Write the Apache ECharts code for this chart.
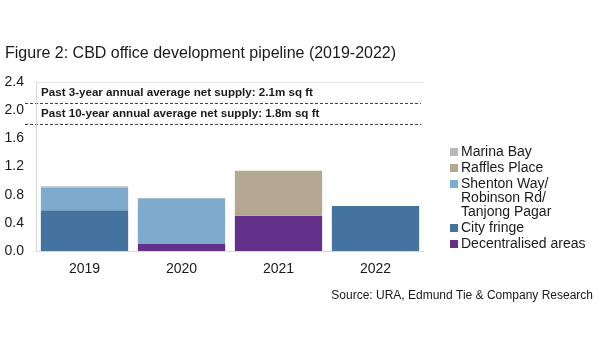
<!DOCTYPE html>
<html>
<head>
<meta charset="utf-8">
<script src="https://cdn.jsdelivr.net/npm/echarts@6/dist/echarts.min.js"></script>
<style>
html,body{margin:0;padding:0;background:#fff;}
#main{width:600px;height:360px;}
</style>
</head>
<body>
<div id="main"></div>
<script>
var categories = ['2019', '2020', '2021', '2022'];
var decentralised = [0, 0.10, 0.50, 0];
var cityFringe = [0.58, 0, 0, 0.64];
var shentonWay = [0.32, 0.65, 0, 0];
var rafflesPlace = [0, 0, 0.64, 0];
var marinaBay = [0.02, 0, 0, 0];
var yTicks = [0, 0.4, 0.8, 1.2, 1.6, 2.0, 2.4];
var refValues = [2.1, 1.8];
var refLabels = ['Past 3-year annual average net supply: 2.1m sq ft', 'Past 10-year annual average net supply: 1.8m sq ft'];
var seriesNames = ['Decentralised areas', 'City fringe', 'Shenton Way/\nRobinson Rd/\nTanjong Pagar', 'Raffles Place', 'Marina Bay'];
var seriesColors = ['#63308a', '#44739f', '#7eaacd', '#b5a890', '#b9b9b9'];
var seriesData = [decentralised, cityFringe, shentonWay, rafflesPlace, marinaBay];

var FONT = '"Liberation Sans", Arial, Helvetica, sans-serif';
var chart = echarts.init(document.getElementById('main'), null, {renderer: 'canvas'});

var series = seriesData.map(function (d, i) {
  return {
    name: seriesNames[i],
    type: 'bar',
    stack: 'total',
    data: d,
    barCategoryGap: '10%',
    itemStyle: {color: seriesColors[i]},
    emphasis: {disabled: true},
    animation: false
  };
});

var gridLeft = 36, gridRight = 424, gridTop = 82, gridBottom = 251;

var option = {
  animation: false,
  backgroundColor: '#ffffff',
  textStyle: {fontFamily: FONT},
  grid: {left: gridLeft, right: 600 - gridRight, top: gridTop, bottom: 360 - gridBottom, containLabel: false},
  xAxis: [{
    type: 'category',
    data: categories,
    axisLine: {show: true, lineStyle: {color: '#d9d9d9', width: 1}},
    axisTick: {show: false},
    axisLabel: {color: '#1a1a1a', fontSize: 14, fontFamily: FONT, margin: 11}
  }, {
    type: 'category',
    data: categories,
    position: 'top',
    axisLine: {show: true, lineStyle: {color: '#e3e3e3', width: 1}},
    axisTick: {show: false},
    axisLabel: {show: false}
  }],
  yAxis: {
    type: 'value',
    min: yTicks[0],
    max: yTicks[yTicks.length - 1],
    interval: 0.4,
    axisLine: {show: true, lineStyle: {color: '#d9d9d9', width: 1}},
    axisTick: {show: false},
    splitLine: {show: false},
    axisLabel: {
      color: '#1a1a1a', fontSize: 14, fontFamily: FONT, margin: 12,
      formatter: function (v) { return v.toFixed(1); }
    }
  },
  series: series,
  graphic: []
};
chart.setOption(option);

var graphics = [];
graphics.push({
  type: 'text', left: 5, top: 46,
  style: {text: 'Figure 2: CBD office development pipeline (2019-2022)', font: '16px ' + FONT, fill: '#1a1a1a'}
});
graphics.push({
  type: 'text', right: 7, top: 290,
  style: {text: 'Source: URA, Edmund Tie & Company Research', font: '12px ' + FONT, fill: '#1a1a1a'}
});

refValues.forEach(function (v, i) {
  var y = Math.round(chart.convertToPixel({yAxisIndex: 0}, v)) + 0.5;
  graphics.push({
    type: 'line',
    shape: {x1: 25, y1: y, x2: gridRight - 3, y2: y},
    style: {stroke: '#444444', lineWidth: 1, lineDash: [3, 2]},
    silent: true
  });
  graphics.push({
    type: 'text', x: 41, y: y - 11,
    style: {text: refLabels[i], font: 'bold 11.6px ' + FONT, fill: '#1a1a1a', textVerticalAlign: 'middle', verticalAlign: 'middle'},
    silent: true
  });
});

var legendTop = 145;
var cursor = legendTop;
for (var i = seriesNames.length - 1; i >= 0; i--) {
  var lines = seriesNames[i].split('\n').length;
  graphics.push({
    type: 'rect', shape: {x: 450, y: cursor + 3, width: 8, height: 8},
    style: {fill: seriesColors[i]}, silent: true
  });
  graphics.push({
    type: 'text', x: 461, y: cursor,
    style: {text: seriesNames[i], font: '14px ' + FONT, fill: '#1a1a1a', lineHeight: 14, verticalAlign: 'top', textVerticalAlign: 'top'},
    silent: true
  });
  cursor += lines * 14 + 2;
}

chart.setOption({graphic: graphics});
</script>
</body>
</html>
